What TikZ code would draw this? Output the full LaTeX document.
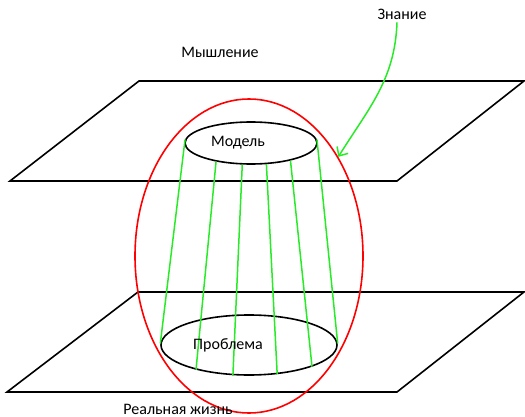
\documentclass[tikz,border=0pt]{standalone}
\usepackage{fontspec}
\setmainfont{Carlito}
\usepackage{tikz}
\usetikzlibrary{shapes, arrows.meta}

\definecolor{zgreen}{RGB}{40,235,40}

\begin{document}
\begin{tikzpicture}[x=1pt, y=-1pt, font=\fontsize{16}{19}\selectfont]

	\tikzstyle{plane}=[draw=black, line width=1.6pt]
	\tikzstyle{oval}=[ellipse, draw=black, line width=1.6pt, inner sep=0pt]
	\tikzstyle{link}=[draw=zgreen, line width=1.5pt]
	\tikzstyle{caption}=[anchor=base, inner sep=2pt]

	\useasboundingbox (0,0) rectangle (525,417);

	%% two levels
	\draw [plane] (139,81) -- (524,81) -- (397,181) -- (10,181) -- cycle;
	\draw [plane] (138,292) -- (524,292) -- (397,392) -- (7,392) -- cycle;

	\node (model) at (251,143) [oval, minimum width=132pt, minimum height=42pt] {};
	\node (problem) at (249,345) [oval, minimum width=176pt, minimum height=60pt] {};

	\foreach \a/\b in {177/179, 208/205, 248/242, 306/314, 336/341, 3/1}
		\draw [link] (model.\a) -- (problem.\b);

	\node (knowledge) at (249,256) [oval, draw=red, minimum width=228pt, minimum height=314pt] {};

	\node (think) at (220,58) [caption] {Мышление};
	\node (real) at (178,414) [caption] {Реальная жизнь};
	\node (modeltext) at (238,147) [caption] {Модель};
	\node (problemtext) at (228,349) [caption] {Проблема};
	\node (know) at (402,20) [caption] {Знание};

	\draw [link, -{Straight Barb[length=7pt, width=13pt]}] ([xshift=-5pt]know.south) to [out=-92, in=58] (knowledge.48);

\end{tikzpicture}
\end{document}
